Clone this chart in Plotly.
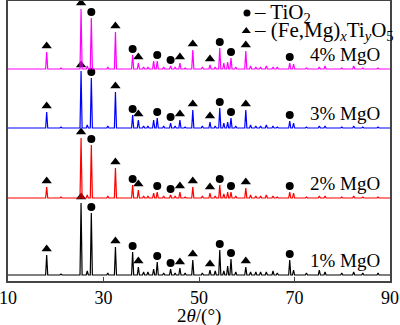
import plotly.graph_objects as go

# ---------------- data ----------------
peak_2theta = [18.1, 21.1, 25.3, 26.6, 27.45, 30.9, 32.5, 36.1, 37.3, 38.4, 39.3,
               40.5, 41.25, 42.6, 44.05, 45.0, 46.0, 47.1, 48.7, 50.7, 52.3, 53.4,
               54.35, 55.2, 56.0, 56.7, 57.7, 59.8, 60.8, 61.9, 62.9, 64.1, 65.5,
               66.4, 69.0, 69.8, 72.5, 75.2, 76.4, 79.9, 82.4, 84.3, 87.5]

int_1 = [20, 1, 72, 4, 62, 2, 28, 23, 8, 3, 3, 6, 13, 2, 6, 2, 7, 2, 15, 2, 5, 4,
         25, 4, 9, 16, 3, 8, 3, 3, 3, 3, 4, 2, 15, 5, 2, 5, 3, 2, 3, 2, 2]
int_2 = [11, 1, 60, 3, 53, 2, 30, 13, 8, 2, 2, 5, 6, 2, 3, 2, 6, 1, 11, 2, 5, 2,
         13, 4, 6, 6, 2, 10, 3, 2, 2, 3, 2, 1, 6, 5, 1, 2, 2, 1, 2, 1, 1]
int_3 = [16, 1, 57, 3, 50, 2, 36, 13, 8, 2, 2, 8, 10, 2, 5, 2, 8, 1, 18, 2, 6, 2,
         20, 5, 6, 10, 2, 18, 3, 2, 2, 3, 2, 1, 7, 5, 1, 2, 2, 1, 2, 1, 1]
int_4 = [17, 1, 60, 3, 51, 2, 37, 14, 6, 2, 2, 8, 8, 2, 3, 2, 6, 1, 19, 2, 4, 2,
         21, 6, 7, 11, 2, 18, 3, 2, 2, 3, 2, 2, 6, 5, 1, 2, 3, 1, 3, 1, 1]

sample_labels = ["1% MgO", "2% MgO", "3% MgO", "4% MgO"]
sample_colors = ["#000000", "#FF0000", "#0000FF", "#FF00FF"]
sample_offsets = [6, 83, 153, 212]

tio2_peaks = [27.45, 36.1, 41.25, 44.05, 54.35, 56.7, 69.0]
fmto_peaks = [18.1, 25.3, 32.5, 37.3, 46.0, 48.7, 52.3, 59.8]

x_ticks = [10, 30, 50, 70, 90]

# ---------------- figure ----------------
FONT = "Liberation Serif, Times New Roman, serif"
HALF_W = 0.22
fig = go.Figure()

all_int = [int_1, int_2, int_3, int_4]
for ints, lab, col, off in zip(all_int, sample_labels, sample_colors, sample_offsets):
    xs = [10.0]
    ys = [off]
    for p, h in zip(peak_2theta, ints):
        xs += [p - HALF_W, p, p + HALF_W]
        ys += [off, off + h, off]
    xs.append(90.0)
    ys.append(off)
    fig.add_trace(go.Scatter(x=xs, y=ys, mode="lines", line=dict(color=col, width=1.2),
                             showlegend=False, hoverinfo="skip"))
    lookup = dict(zip(peak_2theta, ints))
    fig.add_trace(go.Scatter(x=tio2_peaks, y=[off + lookup[p] + 6 for p in tio2_peaks],
                             mode="markers", marker=dict(symbol="circle", size=8, color="black"),
                             showlegend=False, hoverinfo="skip"))
    fig.add_trace(go.Scatter(x=fmto_peaks, y=[off + lookup[p] + 6 for p in fmto_peaks],
                             mode="markers", marker=dict(symbol="triangle-up", size=9, color="black"),
                             showlegend=False, hoverinfo="skip"))
    fig.add_annotation(x=88.4, y=off + 15, text=lab, showarrow=False, xanchor="right",
                       yanchor="middle", font=dict(family=FONT, size=19, color="black"))

# legend (drawn manually)
fig.add_trace(go.Scatter(x=[60.05], y=[268], mode="markers",
                         marker=dict(symbol="circle", size=7, color="black"),
                         showlegend=False, hoverinfo="skip"))
fig.add_trace(go.Scatter(x=[59.9], y=[250], mode="markers",
                         marker=dict(symbol="triangle-up", size=8, color="black"),
                         showlegend=False, hoverinfo="skip"))
fig.add_annotation(x=61.0, y=268, text="– TiO<sub>2</sub>", showarrow=False, xanchor="left",
                   yanchor="middle", font=dict(family=FONT, size=21, color="black"))
fig.add_annotation(x=61.0, y=250, text="– (Fe,Mg)<sub><i>x</i></sub>Ti<sub><i>y</i></sub>O<sub>5</sub>",
                   showarrow=False, xanchor="left", yanchor="middle",
                   font=dict(family=FONT, size=21, color="black"))

# x-axis title
fig.add_annotation(x=0.5, y=-0.125, xref="paper", yref="paper", text="2<i>θ</i>/(°)",
                   showarrow=False, xanchor="center", yanchor="middle",
                   font=dict(family=FONT, size=19, color="black"))

fig.update_xaxes(range=[10, 90], tickvals=x_ticks, ticktext=[str(t) for t in x_ticks],
                 ticks="inside", ticklen=4, tickcolor="#444", showline=True, linecolor="#444",
                 linewidth=1.5, mirror=True, showgrid=False, zeroline=False,
                 ticklabeloverflow="allow",
                 tickfont=dict(family=FONT, size=18, color="black"))
fig.update_yaxes(range=[0, 280], showticklabels=False, ticks="", showline=True,
                 linecolor="#444", linewidth=1.5, mirror=True, showgrid=False, zeroline=False)

fig.update_layout(width=400, height=325, margin=dict(l=8, r=10, t=1, b=44, autoexpand=False),
                  plot_bgcolor="white", paper_bgcolor="white", showlegend=False)

fig.write_html("out.html")
